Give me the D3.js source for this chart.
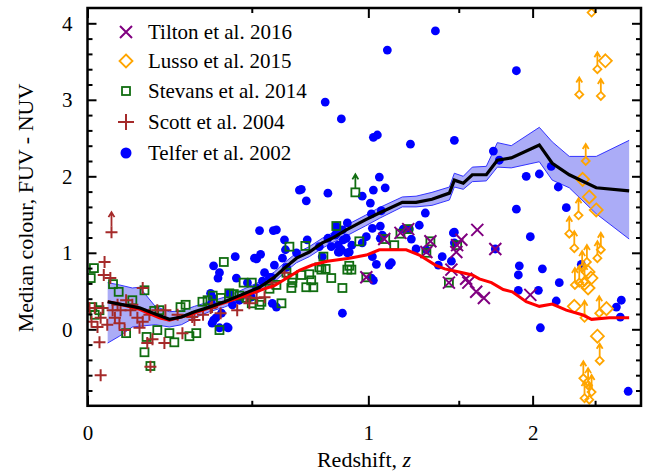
<!DOCTYPE html>
<html>
<head>
<meta charset="utf-8">
<script src="https://cdn.jsdelivr.net/npm/d3@7"></script>
<style>
  body { margin: 0; background: #fff; }
  svg text { font-family: "Liberation Serif", "Times New Roman", serif; }
</style>
</head>
<body>
<svg width="654" height="473"></svg>
<script>
// [redshift z, colour]
const telfer = [
  [1.36,3.90],[1.096,3.65],[1.882,3.38],[0.798,2.97],[0.871,2.75],[1.025,2.51],[1.045,2.54],[1.219,2.42],[1.473,2.47],
  [1.723,2.33],[1.763,2.21],[1.953,2.00],[2.05,2.03],[2.141,2.13],[2.196,1.86],[1.882,1.57],[2.26,1.59],[1.983,1.21],
  [1.055,1.99],[1.025,1.82],[1.085,1.85],[0.97,1.74],[1.01,1.65],[1.065,1.55],[1.015,1.51],[1.302,1.52],[1.268,1.36],
  [1.467,1.26],[0.899,1.39],[1.02,1.32],[1.06,1.35],[0.99,1.21],[0.848,1.35],[0.687,1.82],[0.695,1.83],[0.716,1.68],
  [0.81,1.78],[0.529,1.29],[0.582,1.29],[0.594,1.30],[0.626,1.17],[0.72,1.17],[0.533,0.98],[0.51,0.93],[0.518,0.92],
  [0.44,0.95],[0.365,0.83],[0.385,0.74],[0.38,0.67],[0.444,0.67],[0.63,1.04],[0.675,1.00],[0.772,1.08],[0.825,1.08],
  [0.857,1.01],[0.848,1.25],[0.899,1.00],[0.88,1.17],[0.785,0.95],[0.618,0.93],[0.586,0.84],[0.634,0.81],[0.548,0.74],
  [0.54,0.63],[0.567,0.68],[0.484,0.61],[0.518,0.54],[0.419,0.47],[0.355,0.47],[0.36,0.42],[0.455,0.38],[0.594,0.29],
  [0.392,0.21],[0.373,0.15],[0.415,0.02],[0.36,0.08],[0.43,0.32],[0.498,0.42],[0.365,0.12],[0.41,0.03],[0.385,0.02],
  [0.575,0.68],[0.578,0.34],[0.358,0.34],[0.876,1.30],[1.07,1.23],[1.213,1.31],[1.224,1.18],[1.18,1.31],[1.25,1.05],
  [1.307,1.04],[0.894,1.19],[0.92,1.10],[0.908,1.01],[1.02,0.95],[1.04,0.85],[1.025,0.64],[1.106,0.84],[1.117,0.87],
  [1.40,0.95],[1.377,0.84],[1.473,1.27],[1.473,1.13],[1.736,1.05],[0.876,0.21],[0.871,1.04],[0.81,1.19],[0.843,1.23],
  [0.857,1.10],[0.862,1.01],[0.97,1.13],[1.06,1.19],[1.455,0.89],[1.015,0.67],[1.903,0.83],[1.896,0.71],[2.073,0.79],
  [2.204,0.61],[1.896,0.51],[2.043,0.51],[2.18,0.37],[2.058,0.02],[2.383,0.85],[2.689,0.29],[2.734,0.38],[2.725,0.16],
  [2.798,-0.81]
];

const stevans = [
  [0.016,0.80],[0.008,0.67],[0.065,0.59],[0.08,0.49],[0.151,0.51],[0.10,-0.05],[0.151,-0.30],[0.168,-0.48],[0.179,0.24],
  [0.188,-0.01],[0.224,-0.05],[0.239,-0.17],[0.258,0.29],[0.286,-0.09],[0.308,-0.05],[0.328,0.36],[0.385,-0.01],[0.40,0.88],
  [0.012,0.29],[0.018,0.19],[0.157,-0.10],[0.194,0.25],[0.47,0.61],[0.50,0.61],[0.419,0.47],[0.435,0.46],[0.455,0.44],
  [0.48,0.41],[0.536,0.36],[0.529,0.32],[0.39,0.41],[0.567,0.53],[0.594,0.58],[0.614,0.34],[0.646,1.08],[0.712,1.09],
  [0.634,0.74],[0.658,0.67],[0.654,0.54],[0.695,0.71],[0.729,0.72],[0.716,0.55],[0.746,0.55],[0.737,0.64],[0.658,0.61],
  [0.772,0.81],[0.79,0.95],[0.781,0.78],[0.80,0.79],[0.825,0.67],[0.876,0.54],[0.848,1.35],[0.899,0.78],[0.956,1.15],
  [0.908,0.83],[0.918,0.78],[1.132,1.10],[1.085,1.18],[1.165,1.25],[1.207,1.31],[1.331,1.15],[1.308,1.00],[1.49,1.10],
  [1.44,0.61],[0.99,0.68],[0.50,0.34],[0.03,0.25],[0.117,0.38],[0.274,0.32],[0.345,0.38],[0.362,0.44]
];
const stevansLimits = [[0.937,1.79]];

const scott = [
  [0.043,0.88],[0.041,0.71],[0.058,0.67],[0.146,0.54],[0.033,-0.60],[0.03,-0.17],[0.168,-0.49],[0.018,0.28],[0.038,0.28],
  [0.064,0.25],[0.085,0.25],[0.112,0.25],[0.131,0.15],[0.146,0.10],[0.165,0.19],[0.188,0.25],[0.212,0.25],[0.249,0.19],
  [0.264,-0.05],[0.159,-0.18],[0.174,-0.13],[0.209,-0.18],[0.33,0.19],[0.302,0.12],[0.025,0.03],[0.05,0.06],[0.082,0.08],
  [0.096,-0.01],[0.137,0.02],[0.033,0.15],[0.295,0.16],[0.355,0.28],[0.389,0.21],[0.447,0.25],[0.48,0.42],[0.491,0.34],
  [0.518,0.41],[0.548,0.42],[0.575,0.61],[0.626,0.74],[0.36,0.29],[0.005,0.28],[0.077,0.32],[0.10,0.38],[0.117,0.32],
  [0.01,0.10],[0.07,0.15]
];
const scottLimits = [[0.061,1.27]];

const tilton = [
  [1.08,1.18],[1.165,1.26],[1.207,1.31],[1.331,1.15],[1.308,1.01],[1.49,1.10],[1.516,1.17],[1.617,1.30],[1.736,1.05],
  [1.44,0.61],[1.455,0.78],[1.546,0.66],[1.56,0.61],[1.61,0.49],[1.66,0.41],[0.99,0.68],[1.485,1.01],[1.983,0.45]
];

const lusso = [
  [2.59,3.51],[2.394,1.96],[2.45,1.73],[2.51,1.56],[2.44,0.75],[2.465,0.67],[2.44,0.54],[2.325,0.30],[2.60,0.27],
  [2.52,-0.09],[2.41,0.60]
];
const lussoLimits = [
  [2.47,4.14],[2.52,3.40],[2.366,3.07],[2.55,3.05],[2.42,2.20],[2.36,1.49],[2.284,1.25],[2.325,1.06],[2.52,0.93],
  [2.55,1.04],[2.33,0.58],[2.366,0.61],[2.41,0.62],[2.41,0.15],[2.536,0.21],[2.54,-0.41],[2.40,-0.64],[2.44,-0.73],
  [2.47,-0.82],[2.41,-0.90],[2.45,-0.92],[2.39,0.80],[2.43,0.88]
];

// running median (black) with its spread, and the model track (red)
const medZ  = [0.051,0.082,0.117,0.137,0.182,0.224,0.261,0.302,0.351,0.402,0.455,0.529,0.586,0.626,0.675,0.729,0.785,0.829,
               0.894,0.985,1.055,1.175,1.25,1.34,1.443,1.473,1.528,1.585,1.676,1.75,1.846,2.05,2.149,2.284,2.51,2.807];
const medC  = [0.36,0.33,0.30,0.28,0.20,0.13,0.16,0.23,0.29,0.36,0.44,0.55,0.68,0.80,0.93,1.01,1.13,1.19,
               1.30,1.43,1.52,1.66,1.66,1.70,1.78,1.95,1.91,2.02,2.02,2.21,2.24,2.41,2.17,2.02,1.85,1.81];
const medHi = [0.61,0.58,0.54,0.55,0.30,0.23,0.24,0.30,0.36,0.42,0.50,0.62,0.75,0.87,1.00,1.08,1.19,1.26,
               1.36,1.49,1.59,1.73,1.74,1.79,1.86,2.04,2.00,2.12,2.13,2.44,2.40,2.64,2.45,2.26,2.26,2.47];
const medLo = [-0.18,-0.09,0.03,0.04,0.06,0.03,0.06,0.15,0.23,0.29,0.37,0.49,0.62,0.74,0.87,0.95,1.06,1.13,
               1.22,1.35,1.45,1.60,1.60,1.62,1.69,1.86,1.83,1.93,1.94,2.12,2.11,2.19,1.95,1.85,1.51,1.18];

const redZ = [0.051,0.082,0.137,0.194,0.224,0.286,0.351,0.419,0.491,0.548,0.586,0.646,0.687,0.742,0.807,0.908,0.99,1.055,
              1.133,1.196,1.268,1.36,1.415,1.503,1.585,1.63,1.71,1.79,1.853,1.953,2.05,2.149,2.26,2.39,2.47,2.624,2.807];
const redC = [0.36,0.33,0.26,0.15,0.12,0.19,0.28,0.37,0.46,0.53,0.57,0.69,0.77,0.84,0.89,0.93,0.97,1.04,
              1.04,1.04,0.97,0.84,0.79,0.75,0.71,0.66,0.61,0.52,0.49,0.36,0.30,0.33,0.25,0.19,0.13,0.15,0.15];

const xMajor = [0, 1, 2];
const xMinor = [0.5, 1.5, 2.5];
const yMajor = [0, 1, 2, 3, 4];

const serif = "Liberation Serif, Times New Roman, serif";
const svg = d3.select("svg").attr("font-family", serif),
    pLeft = 87.5, pRight = 641, pTop = 8, pBottom = 405.8;

// x axis is logarithmic in (1+z)
const sx = d3.scaleLog().domain([1, 3.92]).range([pLeft, pRight]);
const X = z => sx(1 + z);
const sy = d3.scaleLinear().domain([-1, 4.2]).range([pBottom, pTop]);

svg.append("defs").append("clipPath").attr("id", "plot")
    .append("rect").attr("x", pLeft).attr("y", pTop)
    .attr("width", pRight - pLeft).attr("height", pBottom - pTop);

const plot = svg.append("g").attr("clip-path", "url(#plot)");

const blue = "#0000ff", green = "#106d10", brown = "#a52a2a", purple = "#800080", orange = "#ffa500";

// shaded spread around the median
const idx = d3.range(medZ.length);
plot.append("path")
    .datum(idx)
    .attr("d", d3.area().x(i => X(medZ[i])).y0(i => sy(medLo[i])).y1(i => sy(medHi[i])))
    .attr("fill", "#abacf7");
[medLo, medHi].forEach(arr => {
    plot.append("path")
        .datum(idx)
        .attr("d", d3.line().x(i => X(medZ[i])).y(i => sy(arr[i])))
        .attr("fill", "none").attr("stroke", "#3333ff").attr("stroke-width", 1);
});

function arrowUp(g, cx, cy, len, color) {
    g.append("path")
        .attr("d", `M${cx},${cy}V${cy - len}M${cx - 3},${cy - len + 5}L${cx},${cy - len}L${cx + 3},${cy - len + 5}`)
        .attr("fill", "none").attr("stroke", color).attr("stroke-width", 1.8);
}

function diamond(r) { return `M0,${-r}L${r},0L0,${r}L${-r},0Z`; }

// Telfer et al. 2002
plot.selectAll(".telfer").data(telfer).enter()
    .append("circle")
    .attr("cx", d => X(d[0])).attr("cy", d => sy(d[1]))
    .attr("r", 4.4).attr("fill", blue);

// Stevans et al. 2014
plot.selectAll(".stevans").data(stevans.concat(stevansLimits)).enter()
    .append("rect")
    .attr("x", d => X(d[0]) - 4).attr("y", d => sy(d[1]) - 4)
    .attr("width", 8).attr("height", 8)
    .attr("fill", "none").attr("stroke", green).attr("stroke-width", 1.8);
stevansLimits.forEach(d => arrowUp(plot, X(d[0]), sy(d[1]) - 4, 14, green));

// Scott et al. 2004
plot.selectAll(".scott").data(scott.concat(scottLimits)).enter()
    .append("path")
    .attr("transform", d => `translate(${X(d[0])},${sy(d[1])})`)
    .attr("d", "M-6,0H6M0,-6V6")
    .attr("stroke", brown).attr("stroke-width", 2);
scottLimits.forEach(d => arrowUp(plot, X(d[0]), sy(d[1]) - 6, 14, brown));

// Lusso et al. 2015
plot.selectAll(".lusso").data(lusso).enter()
    .append("path")
    .attr("transform", d => `translate(${X(d[0])},${sy(d[1])})`)
    .attr("d", diamond(6.5))
    .attr("fill", "none").attr("stroke", orange).attr("stroke-width", 1.8);
plot.selectAll(".lussoLim").data(lussoLimits).enter()
    .append("path")
    .attr("transform", d => `translate(${X(d[0])},${sy(d[1])})`)
    .attr("d", diamond(4))
    .attr("fill", "none").attr("stroke", orange).attr("stroke-width", 1.8);
lussoLimits.forEach(d => arrowUp(plot, X(d[0]), sy(d[1]) - 4, 13, orange));

// Tilton et al. 2016
plot.selectAll(".tilton").data(tilton).enter()
    .append("path")
    .attr("transform", d => `translate(${X(d[0])},${sy(d[1])})`)
    .attr("d", "M-6,-6L6,6M-6,6L6,-6")
    .attr("stroke", purple).attr("stroke-width", 2);

// lines on top
plot.append("path")
    .datum(d3.range(redZ.length))
    .attr("d", d3.line().x(i => X(redZ[i])).y(i => sy(redC[i])))
    .attr("fill", "none").attr("stroke", "#ff0000").attr("stroke-width", 3);
plot.append("path")
    .datum(idx)
    .attr("d", d3.line().x(i => X(medZ[i])).y(i => sy(medC[i])))
    .attr("fill", "none").attr("stroke", "#000").attr("stroke-width", 3.2);

// axes: ticks point inwards on all four sides
const fs = 21;
function styleAxis(g) {
    g.select(".domain").remove();
    g.attr("font-family", serif).attr("font-size", fs);
    g.selectAll("line").attr("stroke-width", 2);
    g.selectAll("text").attr("font-family", serif).attr("font-size", fs).attr("fill", "#000");
}
const xv = v => v.map(z => 1 + z);

svg.append("g").attr("transform", `translate(0,${pBottom})`)
    .call(d3.axisBottom(sx).tickValues(xv(xMajor)).tickSize(-10).tickPadding(19).tickFormat(d => Math.round(d - 1)))
    .call(styleAxis);
svg.append("g").attr("transform", `translate(0,${pBottom})`)
    .call(d3.axisBottom(sx).tickValues(xv(xMinor)).tickSize(-5).tickFormat(""))
    .call(styleAxis);
svg.append("g").attr("transform", `translate(0,${pTop})`)
    .call(d3.axisTop(sx).tickValues(xv(xMajor)).tickSize(-10).tickFormat(""))
    .call(styleAxis);
svg.append("g").attr("transform", `translate(0,${pTop})`)
    .call(d3.axisTop(sx).tickValues(xv(xMinor)).tickSize(-5).tickFormat(""))
    .call(styleAxis);

const yMinor = d3.range(-4, 21).map(k => k / 5).filter(v => Math.abs(v - Math.round(v)) > 1e-6);
svg.append("g").attr("transform", `translate(${pLeft},0)`)
    .call(d3.axisLeft(sy).tickValues(yMajor).tickSize(-9).tickPadding(15).tickFormat(d3.format("d")))
    .call(styleAxis);
svg.append("g").attr("transform", `translate(${pLeft},0)`)
    .call(d3.axisLeft(sy).tickValues(yMinor).tickSize(-5).tickFormat(""))
    .call(styleAxis);
svg.append("g").attr("transform", `translate(${pRight},0)`)
    .call(d3.axisRight(sy).tickValues(yMajor).tickSize(-9).tickFormat(""))
    .call(styleAxis);
svg.append("g").attr("transform", `translate(${pRight},0)`)
    .call(d3.axisRight(sy).tickValues(yMinor).tickSize(-5).tickFormat(""))
    .call(styleAxis);

svg.append("rect")
    .attr("x", pLeft).attr("y", pTop).attr("width", pRight - pLeft).attr("height", pBottom - pTop)
    .attr("fill", "none").attr("stroke", "#000").attr("stroke-width", 2.5);

// titles
const xt = svg.append("text").attr("x", 364).attr("y", 467)
    .attr("text-anchor", "middle").attr("font-size", 22).attr("font-family", serif);
xt.append("tspan").text("Redshift, ");
xt.append("tspan").attr("font-style", "italic").text("z");

svg.append("text")
    .attr("transform", "translate(33,208) rotate(-90)")
    .attr("text-anchor", "middle").attr("font-size", 22).attr("font-family", serif)
    .text("Median colour, FUV - NUV");

// legend
const legendItems = [
    { name: "Tilton et al. 2016", type: "x", color: purple },
    { name: "Lusso et al. 2015", type: "diamond", color: orange },
    { name: "Stevans et al. 2014", type: "square", color: green },
    { name: "Scott et al. 2004", type: "plus", color: brown },
    { name: "Telfer et al. 2002", type: "dot", color: blue }
];
const legend = svg.append("g");
const rowY = [32, 61, 91, 122, 153];
legendItems.forEach((it, i) => {
    const g = legend.append("g").attr("transform", `translate(126,${rowY[i]})`);
    if (it.type === "x") g.append("path").attr("d", "M-6,-6L6,6M-6,6L6,-6").attr("stroke", it.color).attr("stroke-width", 2);
    if (it.type === "diamond") g.append("path").attr("d", diamond(6.5)).attr("fill", "none").attr("stroke", it.color).attr("stroke-width", 1.8);
    if (it.type === "square") g.append("rect").attr("x", -4).attr("y", -4).attr("width", 8).attr("height", 8).attr("fill", "none").attr("stroke", it.color).attr("stroke-width", 1.8);
    if (it.type === "plus") g.append("path").attr("d", "M-8,0H8M0,-8V8").attr("stroke", it.color).attr("stroke-width", 2);
    if (it.type === "dot") g.append("circle").attr("r", 5.5).attr("fill", it.color);
    g.append("text").attr("x", 22).attr("y", 7).attr("font-size", 21).attr("font-family", serif).text(it.name);
});
</script>
</body>
</html>
